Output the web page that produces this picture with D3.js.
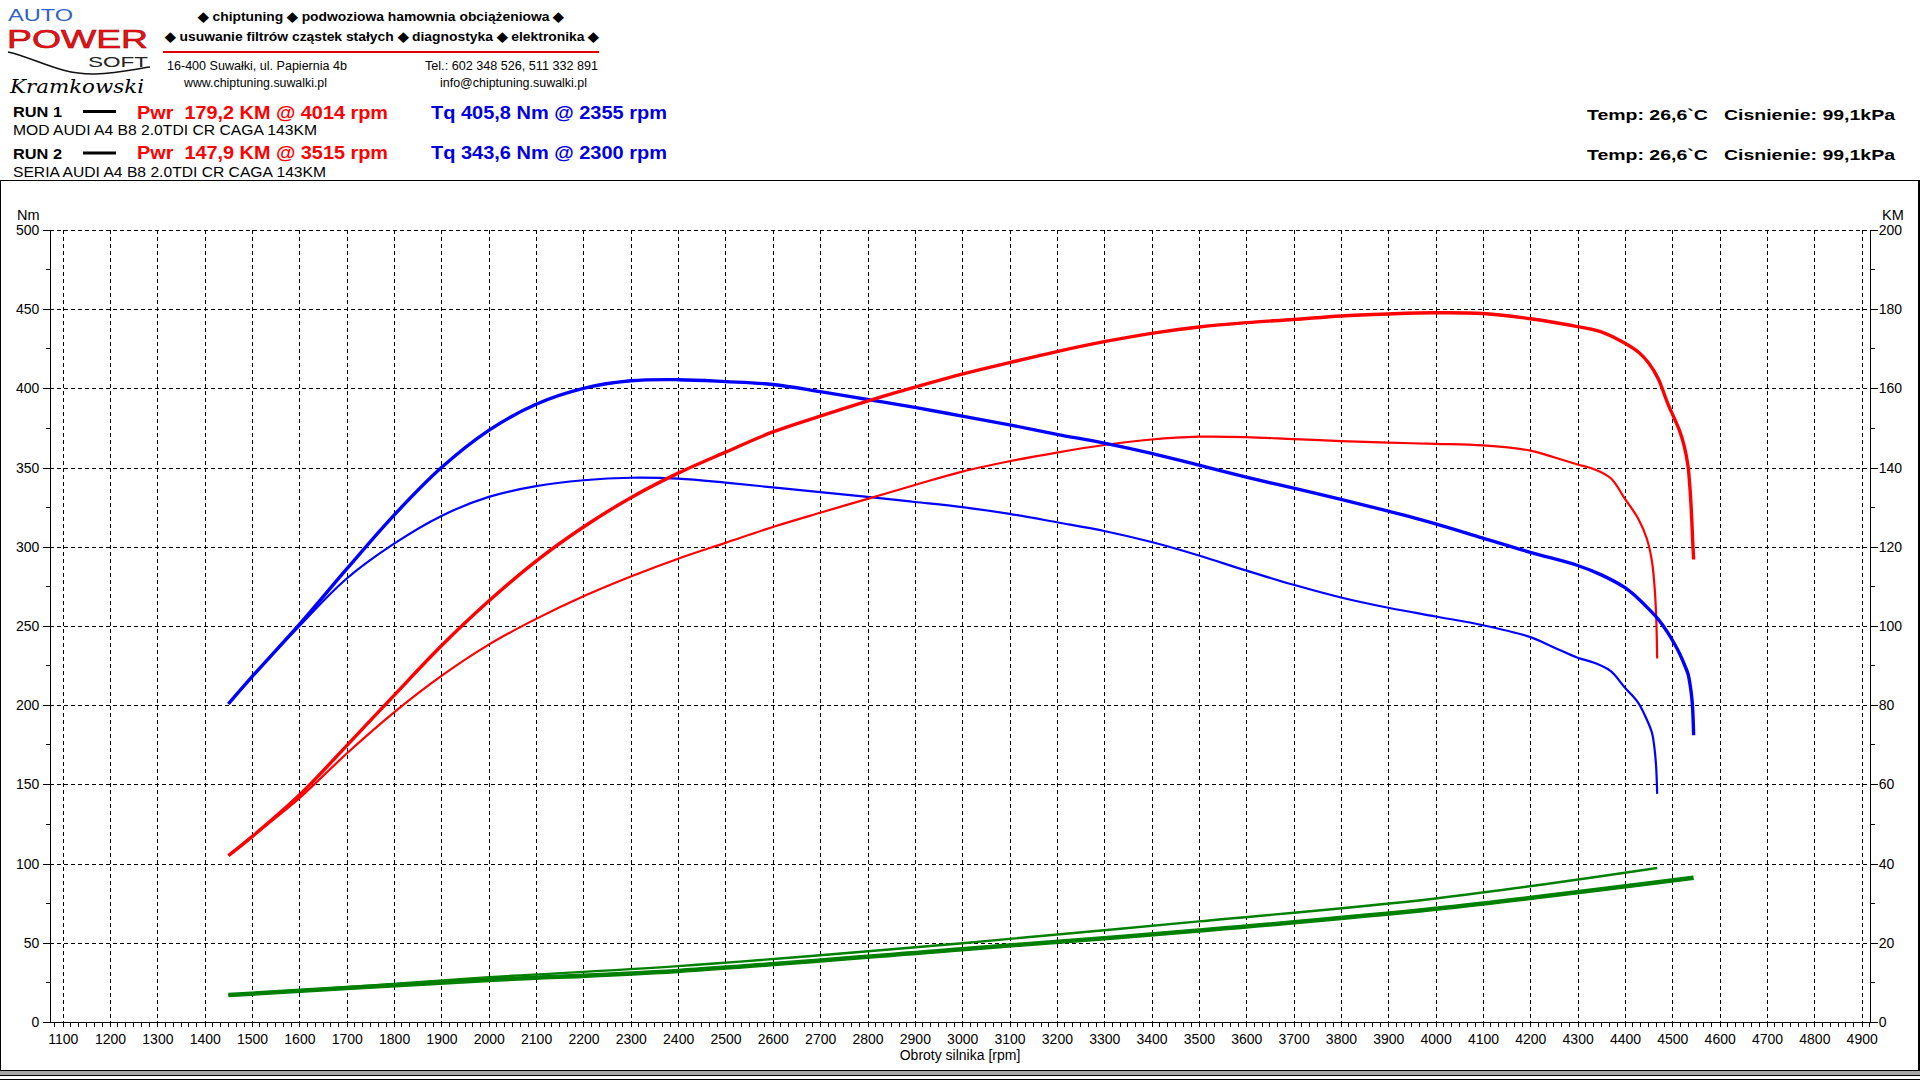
<!DOCTYPE html>
<html><head><meta charset="utf-8">
<script src="https://cdn.jsdelivr.net/npm/d3@7"></script>
<style>
html,body{margin:0;padding:0;background:#fff;}
svg{display:block;font-family:"Liberation Sans",Arial,sans-serif;}
</style></head><body>
<svg id="chart" width="1920" height="1080"></svg>
<script>
// ---------------- DATA ----------------
const rpmTicks = [1100,1200,1300,1400,1500,1600,1700,1800,1900,2000,2100,2200,2300,2400,2500,2600,2700,2800,2900,3000,3100,3200,3300,3400,3500,3600,3700,3800,3900,4000,4100,4200,4300,4400,4500,4600,4700,4800,4900];
const nmTicks = [0,50,100,150,200,250,300,350,400,450,500];
const kmTicks = [0,20,40,60,80,100,120,140,160,180,200];

// RUN 1 (MOD)
const rpmRun1 = [1450,1500,1600,1700,1800,1900,2000,2100,2200,2300,2400,2500,2600,2700,2800,2900,3000,3100,3200,3300,3400,3500,3600,3700,3800,3900,4000,4100,4200,4300,4350,4400,4430,4450,4470,4490,4505,4515,4525,4533,4538,4541,4543,4545];
const pwrRun1 = [42.0,46.8,57.3,69.8,82.5,95.0,106.3,116.4,125.0,132.4,138.6,143.9,149.0,153.0,156.8,160.3,163.6,166.5,169.3,171.8,173.9,175.5,176.6,177.4,178.3,178.8,179.1,178.9,177.6,175.6,174.3,171.4,169.0,166.4,162.5,156.3,152.2,149.4,145.5,140.5,133.5,127.0,121.5,116.8];
const tqRun1  = [200.8,218,251,286,320,350,373.5,390,400,404.8,405.5,404.3,402.5,398,393,388,382.5,377,371,365.5,359,351.5,344,337,330,322.5,314.5,305.5,296.5,288.2,282.3,274.2,266.8,260.8,254.3,246.0,238.5,232.8,226.0,219.8,212,205,197.5,181];

// RUN 2 (SERIA)
const rpmRun2 = [1450,1500,1600,1700,1800,1900,2000,2100,2200,2300,2400,2500,2600,2700,2800,2900,3000,3100,3200,3300,3400,3500,3600,3700,3800,3900,4000,4100,4200,4250,4300,4335,4370,4400,4428,4446,4457,4463,4466,4468];
const pwrRun2 = [42.0,46.8,56.5,67.8,78.2,87.4,95.3,101.8,107.5,112.5,117.0,121.0,125.0,128.6,132.1,135.6,139.0,141.6,143.8,145.7,147.1,147.8,147.7,147.2,146.7,146.3,146.0,145.6,144.3,142.6,140.8,139.6,137.3,132.1,127.1,122.1,116.3,109,102,91.8];
const tqRun2  = [200.8,218,250,280,302,319.5,331.5,338.3,342,343.6,343,340.5,337.5,334.5,331.5,328.3,325,320.8,315.5,310,303,294.5,285,276,268,261.5,256,250.5,243,236.5,230,226.8,221.5,211,201.5,191,182.6,171,160,144];

// loss power (green, KM)
const rpmLoss1 = [1450,1700,2000,2400,3000,3500,4000,4545];
const lossRun1 = [6.8,8.6,10.6,12.9,18.4,23.1,28.6,36.4];
const rpmLoss2 = [1450,1700,2000,2400,3000,3500,4000,4468];
const lossRun2 = [6.8,8.8,11.3,14.1,19.9,25.4,31.2,38.9];

const headerLines = ["\u25C6 chiptuning \u25C6 podwoziowa hamownia obciążeniowa \u25C6",
                     "\u25C6 usuwanie filtrów cząstek stałych \u25C6 diagnostyka \u25C6 elektronika \u25C6"];
const runLabels = ["RUN 1","RUN 2"];
const runNames = ["MOD AUDI A4 B8 2.0TDI CR CAGA 143KM","SERIA AUDI A4 B8 2.0TDI CR CAGA 143KM"];
const pwrLabels = ["Pwr  179,2 KM @ 4014 rpm","Pwr  147,9 KM @ 3515 rpm"];
const tqLabels = ["Tq 405,8 Nm @ 2355 rpm","Tq 343,6 Nm @ 2300 rpm"];
const envLabels = ["Temp: 26,6`C   Cisnienie: 99,1kPa","Temp: 26,6`C   Cisnienie: 99,1kPa"];

// ---------------- DRAW ----------------
const svg = d3.select('#chart');
svg.append('rect').attr('width',1920).attr('height',1080).attr('fill','#fff');

function txt(g, x, y, s, o) {
  o = o || {};
  const t = g.append('text').attr('x', x).attr('y', y).text(s)
    .attr('font-size', o.size || 14)
    .attr('font-weight', o.weight || 'normal')
    .attr('fill', o.fill || '#000')
    .attr('text-anchor', o.anchor || 'start')
    .style('white-space', 'pre');
  if (o.family) t.attr('font-family', o.family);
  if (o.style) t.attr('font-style', o.style);
  if (o.len) t.attr('textLength', o.len).attr('lengthAdjust', 'spacingAndGlyphs');
  return t;
}

// ----- header / logo -----
const hd = svg.append('g');
txt(hd, 8, 21, 'AUTO', {size: 16, fill: '#2f62c8', len: 65});
txt(hd, 7, 48, 'POWER', {size: 26, fill: '#e8141b', len: 141})
  .attr('stroke', '#b00000').attr('stroke-width', 0.6);
txt(hd, 88, 67, 'SOFT', {size: 15, fill: '#222', len: 60});
hd.append('path').attr('d', 'M8,52 C35,58 60,75 95,74 C120,73 135,69 150,67')
  .attr('fill', 'none').attr('stroke', '#111').attr('stroke-width', 1.6);
txt(hd, 10, 93, 'Kramkowski', {size: 18, style: 'italic', len: 134, family: '"DejaVu Serif",serif'});

txt(hd, 381, 21, headerLines[0], {size: 13, weight: 'bold', anchor: 'middle', len: 366});
txt(hd, 382, 40.5, headerLines[1], {size: 13, weight: 'bold', anchor: 'middle', len: 434});
hd.append('line').attr('x1', 163).attr('x2', 599).attr('y1', 52).attr('y2', 52)
  .attr('stroke', '#e00000').attr('stroke-width', 2);
txt(hd, 167, 70, '16-400 Suwałki, ul. Papiernia 4b', {size: 12.5, len: 180});
txt(hd, 425, 70, 'Tel.: 602 348 526, 511 332 891', {size: 12.5, len: 173});
txt(hd, 184, 87, 'www.chiptuning.suwalki.pl', {size: 12.5, len: 143});
txt(hd, 440, 87, 'info@chiptuning.suwalki.pl', {size: 12.5, len: 147});

[0, 1].forEach(i => {
  txt(hd, 13, 117 + i * 42, runLabels[i], {size: 15, weight: 'bold', len: 49});
  hd.append('line').attr('x1', 83).attr('x2', 116).attr('y1', 111.5 + i * 41.5).attr('y2', 111.5 + i * 41.5)
    .attr('stroke', '#000').attr('stroke-width', 3);
  txt(hd, 137, 118.5 + i * 40.5, pwrLabels[i], {size: 19, weight: 'bold', fill: '#ff0000', len: 251});
  txt(hd, 431, 118.5 + i * 40.5, tqLabels[i], {size: 19, weight: 'bold', fill: '#0000e0', len: 236});
  txt(hd, 13, i ? 176.5 : 135, runNames[i], {size: 15, len: i ? 313 : 304});
  txt(hd, 1587, 119.5 + i * 40, envLabels[i], {size: 15.5, weight: 'bold', len: 308});
});

// ----- frame -----
const fr = svg.append('g').attr('shape-rendering', 'crispEdges');
fr.append('rect').attr('x', 0.5).attr('y', 180.5).attr('width', 1918.5).attr('height', 890)
  .attr('fill', 'none').attr('stroke', '#000').attr('stroke-width', 1.2);
fr.append('rect').attr('x', 0).attr('y', 1071).attr('width', 1920).attr('height', 4).attr('fill', '#a6a6a6');
fr.append('line').attr('x1', 0).attr('x2', 1920).attr('y1', 1075.5).attr('y2', 1075.5).attr('stroke', '#000');
fr.append('line').attr('x1', 0).attr('x2', 1920).attr('y1', 1079.5).attr('y2', 1079.5).attr('stroke', '#000');

// ----- scales -----
const x = d3.scaleLinear().domain([1100, 4900]).range([62.7, 1861.7]);
const yNm = d3.scaleLinear().domain([0, 500]).range([1022, 230]);
const yKm = d3.scaleLinear().domain([0, 200]).range([1022, 230]);
const xL = x(1074), xR = x(4919);

// ----- grid -----
const grid = svg.append('g').attr('shape-rendering', 'crispEdges')
  .attr('stroke', '#000').attr('stroke-width', 1).attr('stroke-dasharray', '4,3');
grid.selectAll('.hg').data(nmTicks.filter(d => d > 0)).join('line')
  .attr('x1', xL).attr('x2', xR).attr('y1', d => Math.round(yNm(d)) + 0.5).attr('y2', d => Math.round(yNm(d)) + 0.5);
grid.selectAll('.vg').data(rpmTicks).join('line')
  .attr('y1', yNm(500)).attr('y2', yNm(0)).attr('x1', d => Math.round(x(d)) + 0.5).attr('x2', d => Math.round(x(d)) + 0.5);

// ----- axes -----
const axisStyle = g => {
  g.attr('font-family', '"Liberation Sans",Arial,sans-serif').attr('font-size', 14);
  g.select('.domain').remove();
  g.selectAll('line').attr('stroke', '#000').attr('shape-rendering', 'crispEdges');
  g.selectAll('text').attr('fill', '#000');
};
svg.append('g').attr('transform', `translate(${xL},0)`)
  .call(d3.axisLeft(yNm).tickValues(nmTicks).tickSize(7).tickPadding(4).tickFormat(d3.format('d')))
  .call(axisStyle);
svg.append('g').attr('transform', `translate(${xR},0)`)
  .call(d3.axisRight(yKm).tickValues(kmTicks).tickSize(7).tickPadding(1).tickFormat(d3.format('d')))
  .call(axisStyle);
svg.append('g').attr('transform', `translate(0,${yNm(0)})`)
  .call(d3.axisBottom(x).tickValues(rpmTicks).tickSize(5).tickPadding(7).tickFormat(d3.format('d')))
  .call(axisStyle);

const ax = svg.append('g').attr('stroke', '#000').attr('shape-rendering', 'crispEdges');
ax.append('line').attr('x1', xL).attr('x2', xL).attr('y1', yNm(500)).attr('y2', yNm(0));
ax.append('line').attr('x1', xR).attr('x2', xR).attr('y1', yNm(500)).attr('y2', yNm(0));
ax.append('line').attr('x1', xL).attr('x2', xR).attr('y1', yNm(0)).attr('y2', yNm(0));
// minor ticks
const nmMinor = nmTicks.slice(0, -1).map(d => d + 25);
ax.selectAll('.mnl').data(nmMinor).join('line')
  .attr('x1', xL - 4).attr('x2', xL).attr('y1', d => yNm(d)).attr('y2', d => yNm(d));
const kmMinor = kmTicks.slice(0, -1).map(d => d + 10);
ax.selectAll('.mnr').data(kmMinor).join('line')
  .attr('x1', xR).attr('x2', xR + 4).attr('y1', d => yKm(d)).attr('y2', d => yKm(d));
const rpmMinor = [];
for (let k = -1; k <= 38 * 6 + 1; k++) {
  if (k % 6 === 0) continue;
  const v = 1100 + k * 100 / 6;
  if (v > 1074 && v < 4919) rpmMinor.push(v);
}
ax.selectAll('.mnb').data(rpmMinor).join('line')
  .attr('x1', d => x(d)).attr('x2', d => x(d)).attr('y1', yNm(0)).attr('y2', yNm(0) + 5);

txt(svg, 17, 220, 'Nm', {size: 14.5});
txt(svg, 1882, 220, 'KM', {size: 14.5});
txt(svg, 960, 1060, 'Obroty silnika [rpm]', {size: 14, anchor: 'middle'});

// ----- curves -----
const curve = d3.curveCatmullRom.alpha(0.5);
function series(rpms, vals, yScale, color, width) {
  const pts = rpms.map((r, i) => [r, vals[i]]);
  svg.append('path').datum(pts)
    .attr('fill', 'none').attr('stroke', color).attr('stroke-width', width)
    .attr('stroke-linejoin', 'round').attr('stroke-linecap', 'butt')
    .attr('d', d3.line().x(d => x(d[0])).y(d => yScale(d[1])).curve(curve));
}
series(rpmLoss1, lossRun1, yKm, '#008000', 4.5);
series(rpmLoss2, lossRun2, yKm, '#008000', 2.4);
series(rpmRun2, tqRun2, yNm, '#0000ff', 2.2);
series(rpmRun2, pwrRun2, yKm, '#ff0000', 2.2);
series(rpmRun1, tqRun1, yNm, '#0000ff', 3.4);
series(rpmRun1, pwrRun1, yKm, '#ff0000', 3.4);
</script>
</body></html>
